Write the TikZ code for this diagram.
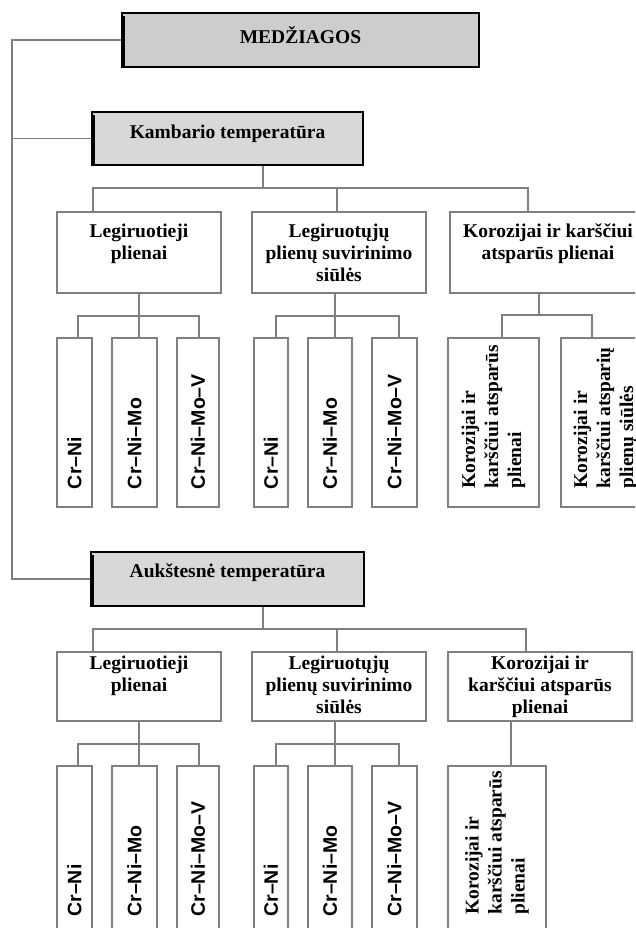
\documentclass[tikz,border=0pt]{standalone}
\usepackage{fontspec}
\setmainfont{Liberation Serif}
\setsansfont{Liberation Sans}
\usetikzlibrary{fit}
\definecolor{hdrA}{HTML}{CDCDCD}
\definecolor{hdrB}{HTML}{D8D8D8}
\definecolor{lne}{HTML}{7F7F7F}
\tikzset{
  hdrbox/.style={draw=black, line width=2.6pt, inner sep=0pt},
  catbox/.style={draw=lne, line width=1.5pt, inner sep=0pt, fill=white},
  leafbox/.style={draw=lne, line width=1.5pt, inner sep=0pt, fill=white},
  conn/.style={draw=lne, line width=1.5pt},
  hdrband/.style={draw=black, line width=2.6pt},
  hdrtxt/.style={font=\bfseries\fontsize{19.5}{22}\selectfont, inner sep=0pt, anchor=base},
  cattxt/.style={font=\bfseries\fontsize{19.5}{22}\selectfont, align=center, inner sep=0pt, anchor=north},
  leaftxt/.style={font=\sffamily\bfseries\fontsize{19.5}{22}\selectfont, rotate=90, anchor=west, inner sep=0pt},
  leafser/.style={font=\bfseries\fontsize{19.5}{23}\selectfont, rotate=90, anchor=west, align=left, inner sep=0pt}
}
\begin{document}
\begin{tikzpicture}[x=1pt,y=-1pt]
\useasboundingbox (0,0) rectangle (635,928);
\clip (0,0) rectangle (635,928);

% header boxes
\node[hdrbox, fill=hdrA, fit={(122,13) (479,67)}] (med) {};
\node[hdrbox, fill=hdrB, fit={(92,112) (363,165)}] (kam) {};
\node[hdrbox, fill=hdrB, fit={(91,552) (364,606)}] (auk) {};
\foreach \h in {med,kam,auk}{
  \draw[hdrband] ([xshift=3pt,yshift=-4pt]\h.north west) -- ([xshift=3pt]\h.south west);
}
\node[hdrtxt] at ([yshift=-4pt]med.center) {MEDŽIAGOS};
\node[hdrtxt] at (kam.center) {Kambario temperatūra};
\node[hdrtxt] at ([yshift=2pt]auk.center) {Aukštesnė temperatūra};

% category boxes
\node[catbox, fit={(57,212) (221,293)}] (r1a) {};
\node[catbox, fit={(252,212) (426,293)}] (r1b) {};
\node[catbox, fit={(450,212) (646,293)}] (r1c) {};
\node[catbox, fit={(57,652) (221,721)}] (r2a) {};
\node[catbox, fit={(252,652) (426,721)}] (r2b) {};
\node[catbox, fit={(448,652) (632,721)}] (r2c) {};

\node[cattxt] at ([yshift=-12.5pt]r1a.north) {Legiruotieji\\plienai};
\node[cattxt] at ([yshift=-12.5pt]r1b.north) {Legiruotųjų\\plienų suvirinimo\\siūlės};
\node[cattxt] at ([yshift=-12.5pt]r1c.north) {Korozijai ir karščiui\\atsparūs plienai};
\node[cattxt] at ([yshift=-4.5pt]r2a.north) {Legiruotieji\\plienai};
\node[cattxt] at ([yshift=-4.5pt]r2b.north) {Legiruotųjų\\plienų suvirinimo\\siūlės};
\node[cattxt] at ([yshift=-4.5pt]r2c.north) {Korozijai ir\\karščiui atsparūs\\plienai};

% leaf boxes row 1
\node[leafbox, fit={(57,338) (92,507)}] (a11) {};
\node[leafbox, fit={(112,338) (157,507)}] (a12) {};
\node[leafbox, fit={(177,338) (219,507)}] (a13) {};
\node[leafbox, fit={(254,338) (288,507)}] (b11) {};
\node[leafbox, fit={(308,338) (352,507)}] (b12) {};
\node[leafbox, fit={(372,338) (417,507)}] (b13) {};
\node[leafbox, fit={(448,338) (539,507)}] (c11) {};
\node[leafbox, fit={(561,338) (650,507)}] (c12) {};
% leaf boxes row 2
\node[leafbox, fit={(57,766) (92,935)}] (a21) {};
\node[leafbox, fit={(112,766) (157,935)}] (a22) {};
\node[leafbox, fit={(177,766) (219,935)}] (a23) {};
\node[leafbox, fit={(254,766) (288,935)}] (b21) {};
\node[leafbox, fit={(308,766) (352,935)}] (b22) {};
\node[leafbox, fit={(372,766) (417,935)}] (b23) {};
\node[leafbox, fit={(448,766) (546,935)}] (c21) {};

% leaf texts
\foreach \r/\s in {1/18.5pt,2/19pt}{
  \node[leaftxt] at ([yshift=\s]a\r1.south) {Cr–Ni};
  \node[leaftxt] at ([yshift=\s]a\r2.south) {Cr–Ni–Mo};
  \node[leaftxt] at ([yshift=\s]a\r3.south) {Cr–Ni–Mo–V};
  \node[leaftxt] at ([yshift=\s]b\r1.south) {Cr–Ni};
  \node[leaftxt] at ([yshift=\s]b\r2.south) {Cr–Ni–Mo};
  \node[leaftxt] at ([yshift=\s]b\r3.south) {Cr–Ni–Mo–V};
}
\node[leafser] at ([yshift=19pt]c11.south) {Korozijai ir\\karščiui atsparūs\\plienai};
\node[leafser] at ([yshift=19pt]c12.south) {Korozijai ir\\karščiui atsparių\\plienų siūlės};
\node[leafser] at ([yshift=21pt]c21.south) {Korozijai ir\\karščiui atsparūs\\plienai};

% spine
\coordinate (sp) at (12,0);
\draw[conn] (med.west) -| (sp |- auk.west) -- (auk.west);
\draw[conn] (kam.west) -- (kam.west -| sp);

% row 1 level 2
\coordinate (k0) at (263,188);
\coordinate (k1) at (93,188);
\coordinate (k2) at (337,188);
\coordinate (k3) at (528,188);
\draw[conn] (kam.south -| k0) -- (k0);
\draw[conn] (k1 |- r1a.north) -- (k1) -- (k3) -- (k3 |- r1c.north);
\draw[conn] (k2) -- (k2 |- r1b.north);

% row 1 leaves
\coordinate (pa) at (139,316); \coordinate (paL) at (78,316); \coordinate (paR) at (199,316);
\draw[conn] (pa |- r1a.south) -- (pa |- a12.north);
\draw[conn] (paL |- a11.north) -- (paL) -- (paR) -- (paR |- a13.north);
\coordinate (pb) at (335,316); \coordinate (pbL) at (276,316); \coordinate (pbR) at (399,316);
\draw[conn] (pb |- r1b.south) -- (pb |- b12.north);
\draw[conn] (pbL |- b11.north) -- (pbL) -- (pbR) -- (pbR |- b13.north);
\coordinate (pc) at (539,315); \coordinate (pcL) at (502,315); \coordinate (pcR) at (592,315);
\draw[conn] (pc |- r1c.south) -- (pc);
\draw[conn] (pcL |- c11.north) -- (pcL) -- (pcR) -- (pcR |- c12.north);

% row 2 level 2
\coordinate (m0) at (263,629);
\coordinate (m1) at (93,629);
\coordinate (m2) at (337,629);
\coordinate (m3) at (526,629);
\draw[conn] (auk.south -| m0) -- (m0);
\draw[conn] (m1 |- r2a.north) -- (m1) -- (m3) -- (m3 |- r2c.north);
\draw[conn] (m2) -- (m2 |- r2b.north);

% row 2 leaves
\coordinate (qa) at (139,744); \coordinate (qaL) at (78,744); \coordinate (qaR) at (199,744);
\draw[conn] (qa |- r2a.south) -- (qa |- a22.north);
\draw[conn] (qaL |- a21.north) -- (qaL) -- (qaR) -- (qaR |- a23.north);
\coordinate (qb) at (335,744); \coordinate (qbL) at (276,744); \coordinate (qbR) at (399,744);
\draw[conn] (qb |- r2b.south) -- (qb |- b22.north);
\draw[conn] (qbL |- b21.north) -- (qbL) -- (qbR) -- (qbR |- b23.north);
\coordinate (qc) at (511,744);
\draw[conn] (qc |- r2c.south) -- (qc |- c21.north);
\end{tikzpicture}
\end{document}
